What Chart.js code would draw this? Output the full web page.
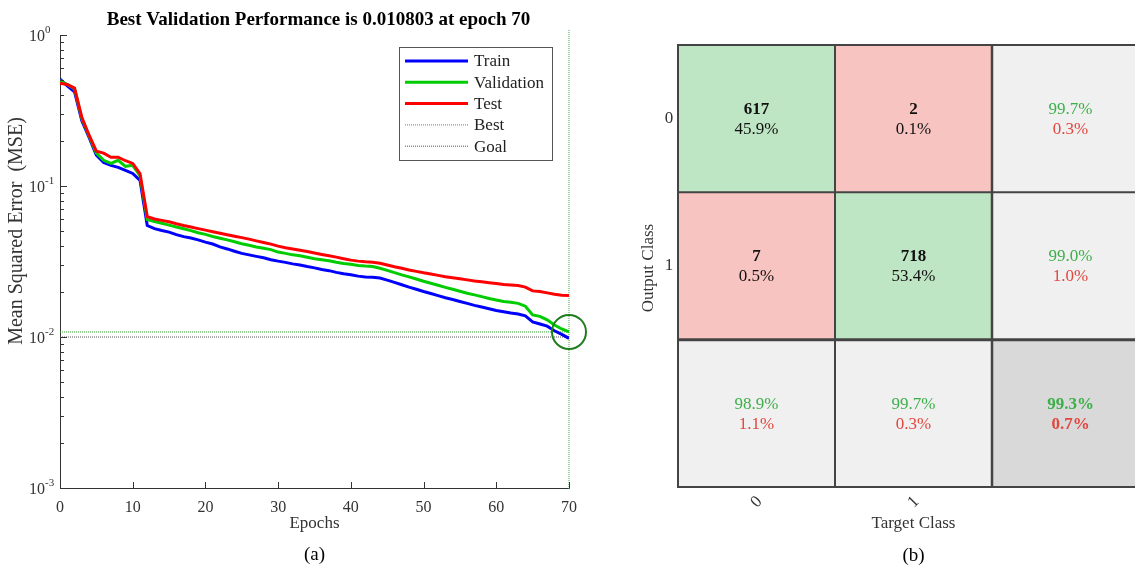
<!DOCTYPE html>
<html>
<head>
<meta charset="utf-8">
<script src="https://cdn.jsdelivr.net/npm/chart.js@4.4.0/dist/chart.umd.min.js"></script>
<style>
  html, body { margin: 0; padding: 0; background: #fff; overflow: hidden; }
  body { width: 1135px; height: 568px; position: relative; }
  #perf { position: absolute; left: 0; top: 0; }
  #conf { position: absolute; left: 640px; top: 0; }
</style>
</head>
<body>
<canvas id="perf" width="640" height="568" style="width:640px;height:568px"></canvas>
<canvas id="conf" width="520" height="568" style="width:520px;height:568px"></canvas>
<script>
// ---- performance curve data ----
const epochs = [0, 1, 2, 3, 4, 5, 6, 7, 8, 9, 10, 11, 12, 13, 14, 15, 16, 17, 18, 19,
  20, 21, 22, 23, 24, 25, 26, 27, 28, 29, 30, 31, 32, 33, 34, 35, 36, 37, 38, 39,
  40, 41, 42, 43, 44, 45, 46, 47, 48, 49, 50, 51, 52, 53, 54, 55, 56, 57, 58, 59,
  60, 61, 62, 63, 64, 65, 66, 67, 68, 69, 70];

const trainMSE = [0.51, 0.46, 0.42, 0.27, 0.21, 0.16, 0.143, 0.137, 0.133, 0.127, 0.121, 0.109,
  0.0547, 0.0522, 0.0507, 0.0495, 0.0476, 0.0462, 0.0452, 0.0440, 0.0425, 0.0413, 0.0395, 0.0383,
  0.0370, 0.0358, 0.0350, 0.0342, 0.0335, 0.0325, 0.0318, 0.0312, 0.0305, 0.0300, 0.0293, 0.0287,
  0.0280, 0.0275, 0.0268, 0.0262, 0.0258, 0.0253, 0.0250, 0.0249, 0.0246, 0.0238, 0.0230, 0.0222,
  0.0214, 0.0207, 0.0200, 0.0194, 0.0188, 0.0182, 0.0177, 0.0172, 0.0167, 0.0162, 0.0158, 0.0154,
  0.0150, 0.0147, 0.0144, 0.0142, 0.0138, 0.0126, 0.0122, 0.0118, 0.0110, 0.0104, 0.0098];

const validMSE = [0.50, 0.47, 0.44, 0.28, 0.215, 0.165, 0.148, 0.141, 0.148, 0.135, 0.137, 0.117,
  0.0599, 0.0582, 0.0567, 0.0551, 0.0535, 0.0521, 0.0506, 0.0490, 0.0478, 0.0463, 0.0451, 0.0440,
  0.0427, 0.0415, 0.0405, 0.0395, 0.0387, 0.0379, 0.0365, 0.0358, 0.0350, 0.0345, 0.0337, 0.0330,
  0.0325, 0.0320, 0.0313, 0.0307, 0.0303, 0.0298, 0.0295, 0.0293, 0.0285, 0.0276, 0.0267, 0.0258,
  0.0250, 0.0242, 0.0234, 0.0227, 0.0220, 0.0213, 0.0207, 0.0201, 0.0195, 0.0190, 0.0185, 0.0180,
  0.0176, 0.0172, 0.0170, 0.0167, 0.0160, 0.0140, 0.0137, 0.0130, 0.0120, 0.0113, 0.0108];

const testMSE = [0.48, 0.47, 0.445, 0.285, 0.217, 0.170, 0.165, 0.155, 0.155, 0.147, 0.141, 0.121,
  0.0627, 0.0605, 0.0592, 0.0580, 0.0563, 0.0548, 0.0535, 0.0522, 0.0510, 0.0498, 0.0487, 0.0475,
  0.0465, 0.0455, 0.0445, 0.0433, 0.0422, 0.0412, 0.0400, 0.0390, 0.0383, 0.0375, 0.0368, 0.0360,
  0.0352, 0.0345, 0.0338, 0.0330, 0.0323, 0.0318, 0.0315, 0.0313, 0.0308, 0.0300, 0.0292, 0.0285,
  0.0278, 0.0272, 0.0266, 0.0261, 0.0256, 0.0251, 0.0247, 0.0243, 0.0239, 0.0235, 0.0232, 0.0229,
  0.0226, 0.0223, 0.0221, 0.0219, 0.0214, 0.0202, 0.0200, 0.0196, 0.0192, 0.0189, 0.0188];

const bestEpoch = 70;
const bestValue = 0.010803;
const goalValue = 0.01;
const xTicks = [0, 10, 20, 30, 40, 50, 60, 70];
const yTicks = [0.001, 0.01, 0.1, 1];
const yTickExp = ['-3', '-2', '-1', '0'];

// ---- confusion matrix data ----
const classes = ['0', '1'];
const cmCounts = [[617, 2], [7, 718]];
const cmPercent = ['45.9%', '0.1%', '0.5%', '53.4%'];
const rowRight = ['99.7%', '99.0%'];
const rowWrong = ['0.3%', '1.0%'];
const colRight = ['98.9%', '99.7%'];
const colWrong = ['1.1%', '0.3%'];
const totalRight = '99.3%';
const totalWrong = '0.7%';

const SERIF = '"Liberation Serif", "DejaVu Serif", serif';
const pts = vals => vals.map((v, i) => ({ x: epochs[i], y: v }));

// inward ticks and power-of-ten labels like the MATLAB axes
const inwardTicks = {
  id: 'inwardTicks',
  afterDraw(chart) {
    const { ctx, chartArea: a, scales: { x, y } } = chart;
    ctx.save();
    ctx.strokeStyle = '#333';
    ctx.lineWidth = 1;
    ctx.beginPath();
    xTicks.forEach(v => {
      const px = Math.round(x.getPixelForValue(v)) + 0.5;
      ctx.moveTo(px, a.bottom);
      ctx.lineTo(px, a.bottom - 6);
    });
    yTicks.forEach(dec => {
      for (let m = 1; m <= 9; m++) {
        const v = dec * m;
        if (v > 1.0001) break;
        const py = Math.round(y.getPixelForValue(v)) + 0.5;
        ctx.moveTo(a.left, py);
        ctx.lineTo(a.left + (m === 1 ? 7 : 4), py);
      }
    });
    ctx.stroke();

    ctx.fillStyle = '#333';
    ctx.textBaseline = 'middle';
    yTicks.forEach((v, i) => {
      const py = y.getPixelForValue(v);
      ctx.font = '16px ' + SERIF;
      ctx.textAlign = 'right';
      ctx.fillText('10', a.left - 15, py + 2);
      ctx.font = '11px ' + SERIF;
      ctx.textAlign = 'left';
      ctx.fillText(yTickExp[i], a.left - 15, py - 5);
    });
    ctx.restore();
  }
};

// legend box inside the axes
const boxLegend = {
  id: 'boxLegend',
  afterDraw(chart) {
    const { ctx } = chart;
    const items = chart.data.datasets.filter(d => d.inLegend);
    ctx.save();
    ctx.fillStyle = '#fff';
    ctx.fillRect(399, 47, 153, 113);
    ctx.strokeStyle = '#555';
    ctx.lineWidth = 1;
    ctx.strokeRect(399.5, 47.5, 153, 113);
    ctx.font = '17px ' + SERIF;
    ctx.textBaseline = 'middle';
    items.forEach((d, i) => {
      const yy = 61 + i * 21.3;
      ctx.beginPath();
      ctx.strokeStyle = d.borderColor;
      ctx.lineWidth = d.borderWidth;
      ctx.setLineDash(d.borderDash || []);
      ctx.moveTo(405, yy);
      ctx.lineTo(468, yy);
      ctx.stroke();
      ctx.setLineDash([]);
      ctx.fillStyle = '#222';
      ctx.fillText(d.label, 474, yy + 1);
    });
    ctx.restore();
  }
};

const perfText = {
  id: 'perfText',
  afterDraw(chart) {
    const { ctx, chartArea: a } = chart;
    const cx = (a.left + a.right) / 2;
    ctx.save();
    ctx.textAlign = 'center';
    ctx.textBaseline = 'middle';
    ctx.fillStyle = '#000';
    ctx.font = 'bold 19px ' + SERIF;
    ctx.fillText('Best Validation Performance is 0.010803 at epoch 70', cx + 4, 20);
    ctx.fillStyle = '#333';
    ctx.font = '17px ' + SERIF;
    ctx.fillText('Epochs', cx, 524);
    ctx.fillStyle = '#000';
    ctx.font = '19px ' + SERIF;
    ctx.fillText('(a)', cx, 555);
    ctx.fillStyle = '#333';
    ctx.translate(17, 231);
    ctx.rotate(-Math.PI / 2);
    ctx.font = '20px ' + SERIF;
    ctx.fillText('Mean Squared Error  (MSE)', 0, 0);
    ctx.restore();
  }
};

new Chart(document.getElementById('perf'), {
  type: 'line',
  data: {
    datasets: [
      { label: 'Train', data: pts(trainMSE), borderColor: '#0000ff', borderWidth: 3, order: 3, inLegend: true },
      { label: 'Validation', data: pts(validMSE), borderColor: '#00cc00', borderWidth: 3, order: 2, inLegend: true },
      { label: 'Test', data: pts(testMSE), borderColor: '#ff0000', borderWidth: 3, order: 1, inLegend: true },
      { label: 'Best', data: [{ x: 0, y: bestValue }, { x: bestEpoch, y: bestValue }],
        borderColor: '#33aa33', borderWidth: 1, borderDash: [1, 1], order: 5, inLegend: true },
      { label: 'Goal', data: [{ x: 0, y: goalValue }, { x: bestEpoch, y: goalValue }],
        borderColor: '#555555', borderWidth: 1, borderDash: [1, 1], order: 6, inLegend: true },
      { label: 'bestV', data: [{ x: bestEpoch, y: 1.08 }, { x: bestEpoch, y: 0.00098 }],
        borderColor: '#33aa33', borderWidth: 1, borderDash: [1, 1], order: 5, clip: false },
      { label: 'circle', data: [{ x: bestEpoch, y: bestValue }], showLine: false,
        pointRadius: 17, pointBorderWidth: 2, pointBorderColor: '#1e7d1e',
        pointBackgroundColor: 'rgba(0,0,0,0)', order: 0, clip: false }
    ]
  },
  options: {
    responsive: false,
    animation: false,
    layout: { padding: { left: 0, top: 35, right: 71, bottom: 0 } },
    elements: { point: { radius: 0 }, line: { tension: 0 } },
    plugins: { legend: { display: false }, title: { display: false }, tooltip: { enabled: false } },
    scales: {
      x: {
        type: 'linear', min: 0, max: 70,
        afterFit: s => { s.height = 80; },
        afterBuildTicks: s => { s.ticks = xTicks.map(v => ({ value: v })); },
        grid: { display: false },
        border: { display: true, color: '#333', width: 1 },
        ticks: { color: '#333', font: { family: SERIF, size: 16 }, padding: 2, maxRotation: 0 }
      },
      y: {
        type: 'logarithmic', min: 0.001, max: 1,
        afterFit: s => { s.width = 60; },
        afterBuildTicks: s => { s.ticks = yTicks.map(v => ({ value: v })); },
        grid: { display: false },
        border: { display: true, color: '#333', width: 1 },
        ticks: { display: false }
      }
    }
  },
  plugins: [inwardTicks, boxLegend, perfText]
});

// ---- confusion matrix ----
const GREEN_CELL = '#bfe6c4', RED_CELL = '#f8c4c1', GRAY_CELL = '#f0f0f0', DARK_CELL = '#d9d9d9';
const cellColors = [
  [GREEN_CELL, RED_CELL, GRAY_CELL],
  [RED_CELL, GREEN_CELL, GRAY_CELL],
  [GRAY_CELL, GRAY_CELL, DARK_CELL]
];
const GOOD_TXT = '#3daf49', BAD_TXT = '#e2463e';

const cmGridAndText = {
  id: 'cmGridAndText',
  afterDatasetsDraw(chart) {
    const { ctx } = chart;
    const cells = [0, 1, 2].map(r => chart.getDatasetMeta(r).data);
    const xEdges = [cells[0][0].x - cells[0][0].width / 2, cells[0][1].x - cells[0][1].width / 2,
      cells[0][2].x - cells[0][2].width / 2, cells[0][2].x + cells[0][2].width / 2];
    const yEdges = [cells[0][0].base, cells[1][0].base, cells[2][0].base, cells[2][0].y];
    ctx.save();
    ctx.strokeStyle = '#444';
    xEdges.forEach((xx, i) => {
      ctx.lineWidth = i === 2 ? 2.5 : 2;
      ctx.beginPath(); ctx.moveTo(xx, yEdges[0] - 1); ctx.lineTo(xx, yEdges[3] + 1); ctx.stroke();
    });
    yEdges.forEach((yy, i) => {
      ctx.lineWidth = i === 2 ? 3 : 2;
      ctx.beginPath(); ctx.moveTo(xEdges[0] - 1, yy); ctx.lineTo(xEdges[3] + 1, yy); ctx.stroke();
    });

    ctx.textAlign = 'center';
    ctx.textBaseline = 'middle';
    const put = (txt, r, c, dy, color, bold) => {
      const el = cells[r][c];
      ctx.fillStyle = color;
      ctx.font = (bold ? 'bold ' : '') + '17px ' + SERIF;
      ctx.fillText(txt, el.x, (el.y + el.base) / 2 + dy);
    };
    for (let r = 0; r < 2; r++) {
      for (let c = 0; c < 2; c++) {
        put(String(cmCounts[r][c]), r, c, -9, '#111', true);
        put(cmPercent[r * 2 + c], r, c, 11, '#111', false);
      }
      put(rowRight[r], r, 2, -9, GOOD_TXT, false);
      put(rowWrong[r], r, 2, 11, BAD_TXT, false);
    }
    for (let c = 0; c < 2; c++) {
      put(colRight[c], 2, c, -9, GOOD_TXT, false);
      put(colWrong[c], 2, c, 11, BAD_TXT, false);
    }
    put(totalRight, 2, 2, -9, GOOD_TXT, true);
    put(totalWrong, 2, 2, 11, BAD_TXT, true);

    // class tick labels
    ctx.fillStyle = '#333';
    ctx.font = '17px ' + SERIF;
    classes.forEach((lab, i) => {
      const el = cells[i][0];
      ctx.fillText(lab, xEdges[0] - 9, (el.y + el.base) / 2);
      const col = cells[0][i];
      ctx.save();
      ctx.translate(col.x, yEdges[3] + 15);
      ctx.rotate(-Math.PI / 4);
      ctx.fillText(lab, 0, 0);
      ctx.restore();
    });
    const midX = cells[0][1].x;
    ctx.fillText('Target Class', midX, 524);
    ctx.fillStyle = '#000';
    ctx.font = '19px ' + SERIF;
    ctx.fillText('(b)', midX, 556);
    ctx.fillStyle = '#333';
    ctx.font = '17px ' + SERIF;
    ctx.translate(9, (yEdges[0] + yEdges[3]) / 2 + 2);
    ctx.rotate(-Math.PI / 2);
    ctx.fillText('Output Class', 0, 0);
    ctx.restore();
  }
};

new Chart(document.getElementById('conf'), {
  type: 'bar',
  data: {
    labels: ['0', '1', ''],
    datasets: [0, 1, 2].map(r => ({
      label: 'row ' + r,
      data: [[r, r + 1], [r, r + 1], [r, r + 1]],
      backgroundColor: cellColors[r],
      borderWidth: 0,
      barPercentage: 1,
      categoryPercentage: 1,
      grouped: false
    }))
  },
  options: {
    responsive: false,
    animation: false,
    layout: { padding: { left: 38, top: 45, right: 11, bottom: 81 } },
    plugins: { legend: { display: false }, title: { display: false }, tooltip: { enabled: false } },
    scales: {
      x: { display: false },
      y: { display: false, min: 0, max: 3, reverse: true }
    }
  },
  plugins: [cmGridAndText]
});
</script>
</body>
</html>
